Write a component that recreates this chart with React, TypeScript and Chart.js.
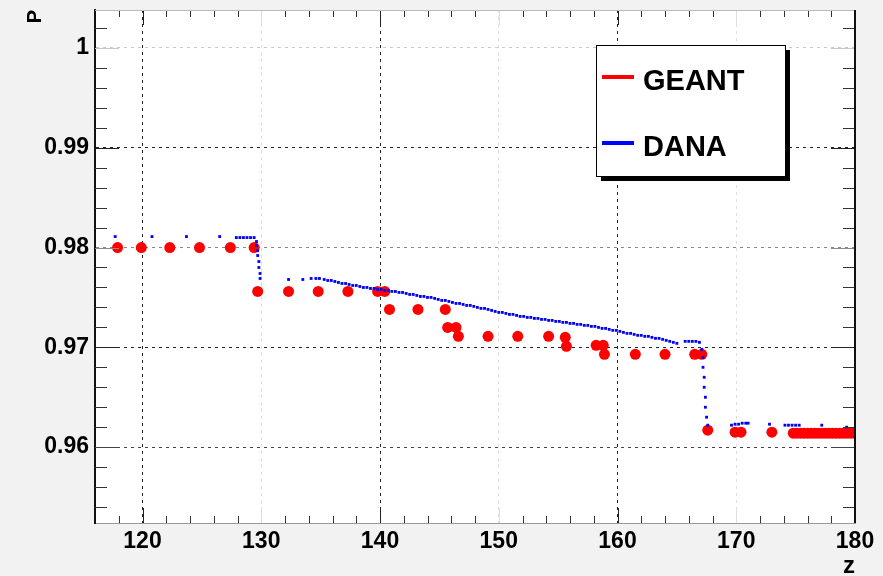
import React, { useEffect, useRef } from 'react';
import { Chart, registerables } from 'chart.js';

Chart.register(...registerables);

// ---- data ----
const geantZ = [
  117.9, 119.9, 122.3, 124.8, 127.4, 129.4, 129.7, 132.3, 134.8, 137.3,
  139.8, 140.4, 140.8, 143.2, 145.5, 145.7, 146.4, 146.6, 149.1, 151.6,
  154.2, 155.6, 155.7, 158.2, 158.8, 158.9, 161.5, 164.0, 166.5, 167.1,
  167.6, 169.9, 170.4, 173.0,
  174.8, 175.1, 175.4, 175.7, 176.0, 176.3, 176.6, 176.9, 177.2, 177.5,
  177.8, 178.1, 178.4, 178.7, 179.0, 179.3, 179.6, 179.9,
];
const geantP = [
  0.98, 0.98, 0.98, 0.98, 0.98, 0.98, 0.9756, 0.9756, 0.9756, 0.9756,
  0.9756, 0.9756, 0.9738, 0.9738, 0.9738, 0.972, 0.972, 0.9711, 0.9711, 0.9711,
  0.9711, 0.971, 0.9701, 0.9702, 0.9702, 0.9693, 0.9693, 0.9693, 0.9693, 0.9693,
  0.9617, 0.9615, 0.9615, 0.9615,
  0.9614, 0.9614, 0.9614, 0.9614, 0.9614, 0.9614, 0.9614, 0.9614, 0.9614, 0.9614,
  0.9614, 0.9614, 0.9614, 0.9614, 0.9614, 0.9614, 0.9614, 0.9614,
];

const danaZ = [
  117.7, 120.8, 123.7, 126.5, 127.9, 128.2, 128.5, 128.8, 129.1, 129.4,
  129.6, 129.6, 129.7, 129.7, 129.8, 129.8, 129.9, 129.9,
  132.3, 133.5, 134.2, 134.6, 134.9,
  135.3, 135.6, 135.9, 136.2, 136.5, 136.8, 137.1, 137.4, 137.7, 138.0,
  138.3, 138.6, 138.9, 139.2, 139.5, 139.8, 140.1, 140.4, 140.7, 141.0,
  141.3, 141.6, 141.9, 142.2, 142.5, 142.8, 143.1, 143.4, 143.7, 144.0,
  144.3, 144.6, 144.9, 145.2, 145.5, 145.8, 146.1, 146.4, 146.7, 147.0,
  147.3, 147.6, 147.9, 148.2, 148.5, 148.8, 149.1, 149.4, 149.7, 150.0,
  150.3, 150.6, 150.9, 151.2, 151.5, 151.8, 152.1, 152.4, 152.7, 153.0,
  153.3, 153.6, 153.9, 154.2, 154.5, 154.8, 155.1, 155.4, 155.7, 156.0,
  156.3, 156.6, 156.9, 157.2, 157.5, 157.8, 158.1, 158.4, 158.7, 159.0,
  159.3, 159.6, 159.9, 160.2, 160.5, 160.8, 161.1, 161.4, 161.7, 162.0,
  162.3, 162.6, 162.9, 163.2, 163.5, 163.8, 164.1, 164.4, 164.7, 165.0,
  165.7, 166.0, 166.3, 166.6, 166.9,
  167.1, 167.2, 167.2, 167.3, 167.3, 167.4, 167.4, 167.5, 167.6,
  169.6, 169.9, 170.2, 170.5, 170.8, 171.0, 172.8,
  174.1, 174.4, 174.7, 175.0, 175.3, 177.2, 179.3,
];
const danaP = [
  0.9811, 0.9811, 0.9811, 0.9811, 0.981, 0.981, 0.981, 0.981, 0.981, 0.981,
  0.9806, 0.9802, 0.9797, 0.9792, 0.9786, 0.978, 0.9774, 0.9769,
  0.9768, 0.9768, 0.9769, 0.9769, 0.9769,
  0.9768, 0.9767, 0.9767, 0.9766, 0.9765, 0.9764, 0.9764, 0.9763, 0.9762, 0.9762,
  0.9761, 0.976, 0.976, 0.9759, 0.9759, 0.9758, 0.9758, 0.9757, 0.9757, 0.9756,
  0.9756, 0.9755, 0.9755, 0.9754, 0.9753, 0.9753, 0.9752, 0.9751, 0.9751, 0.975,
  0.975, 0.9749, 0.9748, 0.9747, 0.9747, 0.9746, 0.9745, 0.9744, 0.9744, 0.9743,
  0.9742, 0.9742, 0.9741, 0.974, 0.9739, 0.9739, 0.9738, 0.9737, 0.9736, 0.9735,
  0.9735, 0.9734, 0.9733, 0.9733, 0.9732, 0.9731, 0.9731, 0.973, 0.973, 0.9729,
  0.9729, 0.9728, 0.9728, 0.9727, 0.9727, 0.9726, 0.9726, 0.9725, 0.9725, 0.9724,
  0.9724, 0.9723, 0.9723, 0.9722, 0.9722, 0.9721, 0.9721, 0.972, 0.9719, 0.9719,
  0.9718, 0.9717, 0.9717, 0.9716, 0.9715, 0.9714, 0.9714, 0.9713, 0.9712, 0.9712,
  0.9711, 0.9711, 0.971, 0.9709, 0.9709, 0.9708, 0.9707, 0.9706, 0.9705, 0.9704,
  0.9706, 0.9706, 0.9706, 0.9706, 0.9705,
  0.9698, 0.969, 0.968, 0.967, 0.966, 0.965, 0.964, 0.963, 0.9622,
  0.9622, 0.9623, 0.9623, 0.9624, 0.9624, 0.9624, 0.9623,
  0.9622, 0.9622, 0.9622, 0.9622, 0.9622, 0.9622, 0.962,
];

const xMajorTicks = [120, 130, 140, 150, 160, 170, 180];
const xTickLabels = ['120', '130', '140', '150', '160', '170', '180'];
const yMajorTicks = [0.96, 0.97, 0.98, 0.99, 1];
const yTickLabels = ['0.96', '0.97', '0.98', '0.99', '1'];

const seriesNames = ['GEANT', 'DANA'];
const xTitle = 'z';
const yTitle = 'P';

// ---- styling ----
const FONT = 'Liberation Sans';
const xGridColors = ['#222', '#dedede', '#222', '#dedede', '#222', '#dedede', 'rgba(0,0,0,0)'];
const yGridColors = ['#444', '#222', '#888', '#222', '#c8c8c8'];

const findIdx = (arr: number[], v: number) => arr.findIndex((t) => Math.abs(t - v) < 1e-6);

const rootPlugin = {
  id: 'rootFrame',
  beforeDraw(chart: any) {
    const { ctx, chartArea: a, width, height } = chart;
    ctx.save();
    ctx.fillStyle = '#f2f2f2';
    ctx.fillRect(0, 0, width, height);
    ctx.fillStyle = '#ffffff';
    ctx.fillRect(a.left, a.top, a.right - a.left, a.bottom - a.top);
    ctx.restore();
  },
  afterDraw(chart: any) {
    const { ctx, chartArea: a } = chart;
    const xs = chart.scales.x;
    const ys = chart.scales.y;
    ctx.save();
    ctx.lineWidth = 1;
    // x ticks (bottom and top, inside)
    xs.ticks.forEach((t: any) => {
      const i = findIdx(xMajorTicks, t.value);
      if (t.value <= xs.min + 1e-9 || t.value >= xs.max - 1e-9) return;
      const px = Math.round(xs.getPixelForValue(t.value)) + 0.5;
      const len = i >= 0 ? 15 : 7;
      ctx.strokeStyle = i >= 0 ? xGridColors[i] : '#333';
      ctx.beginPath();
      ctx.moveTo(px, a.bottom);
      ctx.lineTo(px, a.bottom - len);
      ctx.moveTo(px, a.top);
      ctx.lineTo(px, a.top + len);
      ctx.stroke();
    });
    // y ticks (left and right, inside)
    ys.ticks.forEach((t: any) => {
      const i = findIdx(yMajorTicks, t.value);
      if (t.value <= ys.min + 1e-9 || t.value >= ys.max - 1e-9) return;
      const py = Math.round(ys.getPixelForValue(t.value)) + 0.5;
      const len = i >= 0 ? 24 : 12;
      ctx.strokeStyle = i >= 0 ? yGridColors[i] : '#333';
      ctx.beginPath();
      ctx.moveTo(a.left, py);
      ctx.lineTo(a.left + len, py);
      ctx.moveTo(a.right, py);
      ctx.lineTo(a.right - len, py);
      ctx.stroke();
    });
    // top frame line (light) and right frame line (black)
    ctx.strokeStyle = '#bbbbbb';
    ctx.lineWidth = 1;
    ctx.beginPath();
    ctx.moveTo(a.left, a.top + 0.5);
    ctx.lineTo(a.right, a.top + 0.5);
    ctx.stroke();
    ctx.strokeStyle = '#111';
    ctx.lineWidth = 2;
    ctx.beginPath();
    ctx.moveTo(a.right, a.top);
    ctx.lineTo(a.right, a.bottom);
    ctx.stroke();

    // legend box
    const bx = 596, by = 45, bw = 189, bh = 131;
    ctx.fillStyle = '#000';
    ctx.fillRect(bx + 5, by + 5, bw, bh);
    ctx.fillStyle = '#fff';
    ctx.fillRect(bx, by, bw, bh);
    ctx.strokeStyle = '#000';
    ctx.lineWidth = 1;
    ctx.strokeRect(bx + 0.5, by + 0.5, bw, bh);
    const rows = [77, 143];
    chart.data.datasets.forEach((ds: any, k: number) => {
      const y = rows[k];
      ctx.strokeStyle = ds.borderColor;
      ctx.lineWidth = 4;
      ctx.beginPath();
      ctx.moveTo(602, y);
      ctx.lineTo(634, y);
      ctx.stroke();
      ctx.fillStyle = '#000';
      ctx.font = `bold 29px "${FONT}"`;
      ctx.textAlign = 'left';
      ctx.textBaseline = 'alphabetic';
      ctx.fillText(ds.label, 643, y + 13);
    });
    ctx.restore();
  },
};

export default function App() {
  const ref = useRef<HTMLCanvasElement>(null);
  useEffect(() => {
    document.body.style.margin = '0';
    document.body.style.background = '#f2f2f2';
    const canvas = ref.current!;
    const geant = geantZ.map((z, i) => ({ x: z, y: geantP[i] }));
    const dana = danaZ.map((z, i) => ({ x: z, y: danaP[i] }));
    const chart = new Chart(canvas, {
      type: 'scatter',
      data: {
        datasets: [
          {
            label: seriesNames[0],
            data: geant,
            borderColor: '#ff0000',
            backgroundColor: '#ff0000',
            pointStyle: 'circle',
            pointRadius: 5.5,
            pointBorderWidth: 0,
            showLine: false,
            clip: 0,
            order: 2,
          },
          {
            label: seriesNames[1],
            data: dana,
            borderColor: '#0000ff',
            backgroundColor: '#0000ff',
            pointStyle: 'rect',
            pointRadius: 2,
            pointBorderWidth: 0,
            showLine: false,
            clip: 0,
            order: 1,
          },
        ],
      },
      options: {
        responsive: false,
        animation: false,
        events: [],
        layout: { padding: { top: 10, right: 28, left: 0, bottom: 0 } },
        plugins: { legend: { display: false }, tooltip: { enabled: false } },
        scales: {
          x: {
            type: 'linear',
            position: 'bottom',
            min: 116,
            max: 180,
            afterFit: (s: any) => {
              s.height = 53;
              s.paddingLeft = 0;
              s.paddingRight = 0;
            },
            ticks: {
              stepSize: 2,
              includeBounds: false,
              autoSkip: false,
              maxRotation: 0,
              minRotation: 0,
              padding: 5,
              color: '#000',
              font: { family: FONT, weight: 'bold', size: 23 },
              callback: (v: any) => {
                const i = findIdx(xMajorTicks, Number(v));
                return i >= 0 ? xTickLabels[i] : '';
              },
            },
            grid: {
              drawTicks: false,
              lineWidth: 1,
              color: (c: any) => {
                const i = c.tick ? findIdx(xMajorTicks, c.tick.value) : -1;
                return i >= 0 ? xGridColors[i] : 'rgba(0,0,0,0)';
              },
            },
            border: { display: true, color: '#999999', width: 1, dash: [3, 4] },
            title: {
              display: true,
              text: xTitle,
              align: 'end',
              color: '#000',
              padding: 0,
              font: { family: FONT, weight: 'bold', size: 24, lineHeight: 0.78 },
            },
          },
          y: {
            type: 'linear',
            position: 'left',
            min: 0.9524,
            max: 1.0038,
            afterFit: (s: any) => {
              s.width = 95;
              s.paddingTop = 0;
              s.paddingBottom = 0;
            },
            ticks: {
              stepSize: 0.002,
              includeBounds: false,
              autoSkip: false,
              padding: 6,
              color: '#000',
              font: { family: FONT, weight: 'bold', size: 23 },
              callback: (v: any) => {
                const i = findIdx(yMajorTicks, Number(v));
                return i >= 0 ? yTickLabels[i] : '';
              },
            },
            grid: {
              drawTicks: false,
              lineWidth: 1,
              color: (c: any) => {
                const i = c.tick ? findIdx(yMajorTicks, c.tick.value) : -1;
                return i >= 0 ? yGridColors[i] : 'rgba(0,0,0,0)';
              },
            },
            border: { display: true, color: '#111', width: 2, dash: [3, 4] },
            title: {
              display: true,
              text: yTitle,
              align: 'end',
              color: '#000',
              padding: { top: 23, bottom: 0 },
              font: { family: FONT, weight: 'bold', size: 20 },
            },
          },
        },
      },
      plugins: [rootPlugin],
    } as any);
    return () => chart.destroy();
  }, []);
  return (
    <canvas
      ref={ref}
      width={883}
      height={576}
      style={{ display: 'block', width: 883, height: 576 }}
    />
  );
}
